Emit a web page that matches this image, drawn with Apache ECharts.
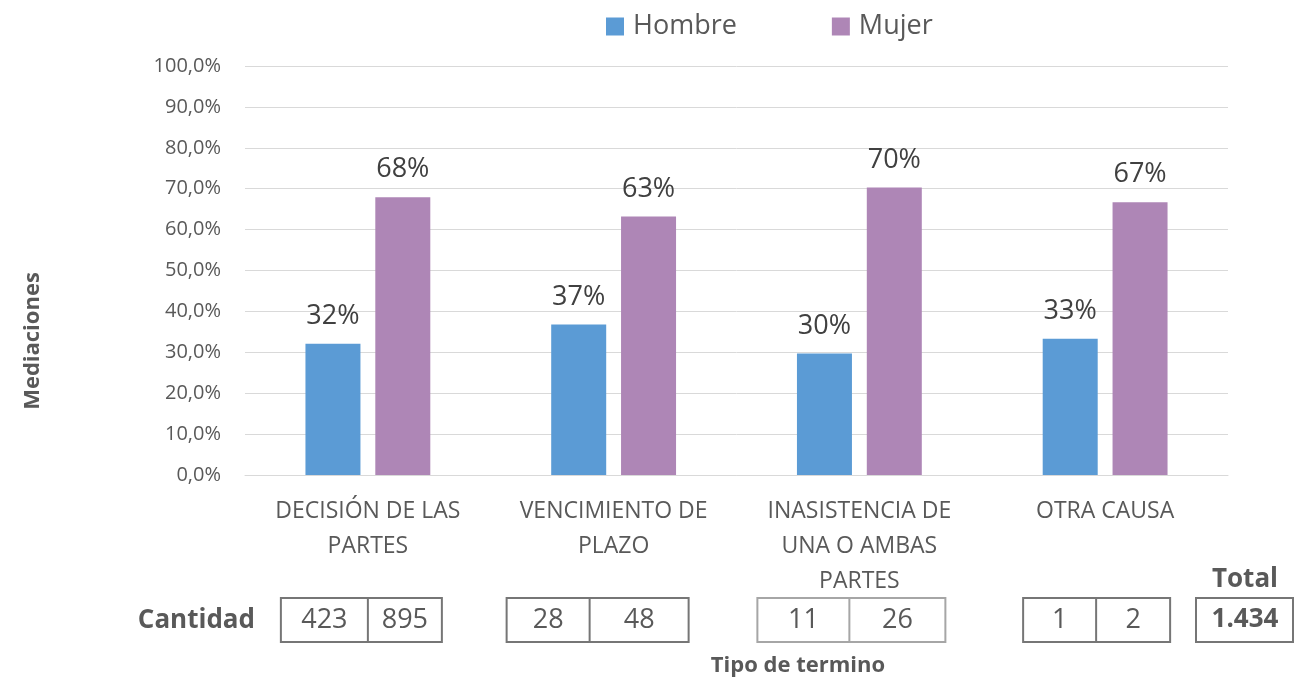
<!DOCTYPE html>
<html>
<head>
<meta charset="utf-8">
<script src="https://cdn.jsdelivr.net/npm/echarts@6/dist/echarts.min.js"></script>
<style>
    html, body { margin: 0; padding: 0; background: #fff; }
    #chart { width: 1312px; height: 679px; }
</style>
</head>
<body>
<div id="chart"></div>
<script>
const categories = ["DECISIÓN DE LAS\nPARTES", "VENCIMIENTO DE\nPLAZO", "INASISTENCIA DE\nUNA O AMBAS\nPARTES", "OTRA CAUSA"];
const hombre = [32.1, 36.8, 29.7, 33.3];
const mujer = [67.9, 63.2, 70.3, 66.7];
const cantHombre = ["423", "28", "11", "1"];
const cantMujer = ["895", "48", "26", "2"];
const total = "1.434";

// box layout relative to category centre: [left edge, divider, right edge], border colour
const boxLayout = [
    [-87, 0, 74, "#767676"],
    [-107, -24, 75, "#767676"],
    [-102, -10, 86, "#a6a6a6"],
    [-82, -9, 65, "#767676"]
];

const font = "'Open Sans', sans-serif";
const grey = "#595959";

const chart = echarts.init(document.getElementById("chart"));

chart.setOption({
    animation: false,
    textStyle: { fontFamily: font },
    color: ["#5b9bd5", "#ae86b6"],
    legend: {
        top: 8,
        left: 601,
        itemWidth: 18,
        itemHeight: 18,
        itemGap: 95,
        icon: "rect",
        textStyle: { fontSize: 27, color: grey, fontFamily: font, padding: [0, 0, 0, 4] }
    },
    grid: { left: 245, right: 84, top: 66, bottom: 204 },
    xAxis: {
        type: "category",
        data: categories,
        axisLine: { lineStyle: { color: "#d9d9d9" } },
        axisTick: { show: false },
        axisLabel: {
            fontSize: 23,
            color: grey,
            lineHeight: 35,
            margin: 19,
            interval: 0
        }
    },
    yAxis: {
        type: "value",
        min: 0,
        max: 100,
        interval: 10,
        axisLabel: {
            fontSize: 20,
            color: grey,
            margin: 24,
            formatter: v => v.toFixed(1).replace(".", ",") + "%"
        },
        splitLine: { lineStyle: { color: "#d9d9d9" } }
    },
    series: [
        {
            name: "Hombre",
            type: "bar",
            data: hombre,
            barWidth: 55,
            barGap: "27%",
            label: {
                show: true, position: "top", distance: 14,
                fontSize: 27, color: "#404040",
                formatter: p => Math.round(p.value) + "%"
            }
        },
        {
            name: "Mujer",
            type: "bar",
            data: mujer,
            barWidth: 55,
            label: {
                show: true, position: "top", distance: 14,
                fontSize: 27, color: "#404040",
                formatter: p => Math.round(p.value) + "%"
            }
        }
    ]
});

function drawTable() {
    const top = 598, h = 44;
    const els = [];
    categories.forEach((c, i) => {
        const cx = chart.convertToPixel({ xAxisIndex: 0 }, i);
        const [l, d, r, col] = boxLayout[i];
        const x0 = cx + l, x1 = cx + d, x2 = cx + r;
        els.push({
            type: "rect",
            shape: { x: x0, y: top, width: x2 - x0, height: h },
            style: { fill: "none", stroke: col, lineWidth: 2 }
        });
        els.push({
            type: "line",
            shape: { x1: x1, y1: top, x2: x1, y2: top + h },
            style: { stroke: col, lineWidth: 2 }
        });
        els.push({
            type: "text",
            style: { text: cantHombre[i], x: (x0 + x1) / 2, y: top + h / 2, align: "center", verticalAlign: "middle", fontSize: 27, fill: grey, fontFamily: font }
        });
        els.push({
            type: "text",
            style: { text: cantMujer[i], x: (x1 + x2) / 2, y: top + h / 2, align: "center", verticalAlign: "middle", fontSize: 27, fill: grey, fontFamily: font }
        });
    });
    els.push({
        type: "text",
        style: { text: "Cantidad", x: 255, y: top + h / 2 + 1, align: "right", verticalAlign: "middle", fontSize: 26, fontWeight: "bold", fill: grey, fontFamily: font }
    });
    els.push({
        type: "rect",
        shape: { x: 1196, y: top, width: 97, height: h },
        style: { fill: "none", stroke: "#767676", lineWidth: 2 }
    });
    els.push({
        type: "text",
        style: { text: total, x: 1245, y: top + h / 2, align: "center", verticalAlign: "middle", fontSize: 26, fontWeight: "bold", fill: grey, fontFamily: font }
    });
    els.push({
        type: "text",
        style: { text: "Total", x: 1245, y: 580, align: "center", verticalAlign: "middle", fontSize: 26, fontWeight: "bold", fill: grey, fontFamily: font }
    });
    els.push({
        type: "text",
        style: { text: "Tipo de termino", x: 798, y: 666, align: "center", verticalAlign: "middle", fontSize: 22, fontWeight: "bold", fill: grey, fontFamily: font }
    });
    els.push({
        type: "text",
        x: 33, y: 341, rotation: Math.PI / 2,
        style: { text: "Mediaciones", x: 0, y: 0, align: "center", verticalAlign: "middle", fontSize: 22, fontWeight: "bold", fill: grey, fontFamily: font }
    });
    chart.setOption({ graphic: { elements: els } });
}
drawTable();
</script>
</body>
</html>
